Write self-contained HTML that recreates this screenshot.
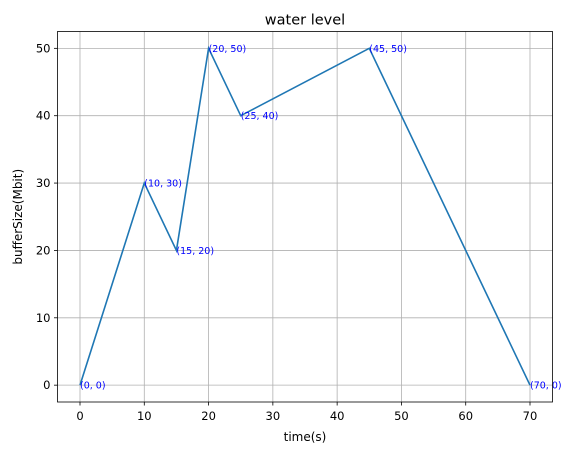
<!DOCTYPE html>
<html><head><meta charset="utf-8"><style>body{margin:0;background:#fff}svg text{font-family:"DejaVu Sans","Liberation Sans",sans-serif}</style></head>
<body>
<svg id="c" width="577" height="455" xmlns="http://www.w3.org/2000/svg"></svg>
<script>
const xs=[0,10,15,20,25,45,70];
const ys=[0,30,20,50,40,50,0];
const xTicks=[0,10,20,30,40,50,60,70];
const yTicks=[0,10,20,30,40,50];
const L=57.5,R=552.5,T=31.5,B=402;
const xmin=-3.5,xmax=73.5,ymin=-2.5,ymax=52.5;
const X=v=>L+(v-xmin)/(xmax-xmin)*(R-L);
const Y=v=>B-(v-ymin)/(ymax-ymin)*(B-T);
const s=document.getElementById('c');const ns='http://www.w3.org/2000/svg';
function mk(t,a,txt){const e=document.createElementNS(ns,t);for(const k in a)e.setAttribute(k,a[k]);if(txt!=null)e.textContent=txt;s.appendChild(e);return e;}
xTicks.forEach(v=>{
const g=mk('line',{x1:X(v),x2:X(v),y1:T,y2:B,stroke:'#b0b0b0','stroke-width':0.8});


mk('line',{x1:X(v),x2:X(v),y1:B,y2:B+3.5,stroke:'#000','stroke-width':0.8});
const t=mk('text',{x:X(v),y:B+18,'font-size':11.5,'text-anchor':'middle'},v);


});
yTicks.forEach(v=>{
const g=mk('line',{x1:L,x2:R,y1:Y(v),y2:Y(v),stroke:'#b0b0b0','stroke-width':0.8});


mk('line',{x1:L-3.5,x2:L,y1:Y(v),y2:Y(v),stroke:'#000','stroke-width':0.8});
const t=mk('text',{x:L-7,y:Y(v)+4,'font-size':11.5,'text-anchor':'end'},v);


});
const p=mk('polyline',{points:xs.map((x,i)=>X(x)+','+Y(ys[i])).join(' '),fill:'none',stroke:'#1f77b4','stroke-width':1.6});


xs.forEach((x,i)=>{
const t=mk('text',{x:X(x),y:Y(ys[i])+3.5,'font-size':9.5,fill:'#0000ff'},'('+x+', '+ys[i]+')');


});
const f=mk('rect',{x:L,y:T,width:R-L,height:B-T,fill:'none',stroke:'#000','stroke-width':0.8});


const ti=mk('text',{x:(L+R)/2,y:T-7,'font-size':14.5,'text-anchor':'middle'},'water level');


const xl=mk('text',{x:(L+R)/2,y:B+39,'font-size':12,'text-anchor':'middle'},'time(s)');


const yl=mk('text',{x:0,y:0,'font-size':12,'text-anchor':'middle',transform:'translate(22,'+((T+B)/2)+') rotate(-90)'},'bufferSize(Mbit)');


</script>
</body></html>
